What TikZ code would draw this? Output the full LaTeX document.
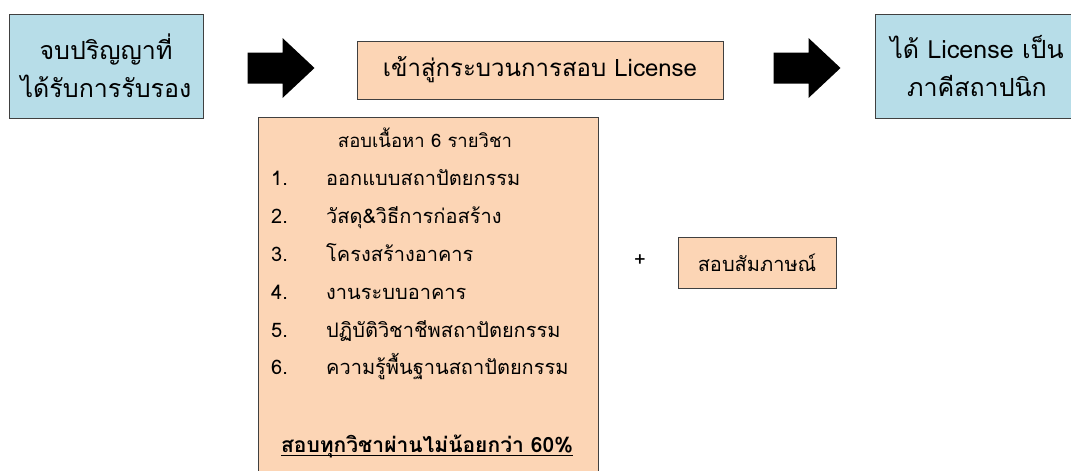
\documentclass[tikz,border=0pt]{standalone}
\usepackage{fontspec}
\usepackage{tikz}
\usetikzlibrary{positioning,calc}
\newfontfamily\thaifont[Script=Thai]{Loma}
\definecolor{bluefill}{HTML}{B7DDE8}
\definecolor{peachfill}{HTML}{FCD5B5}
\definecolor{boxline}{HTML}{404040}
\tikzset{
  box/.style={draw=boxline, line width=0.9pt, align=center, inner sep=0pt},
  bluebox/.style={box, fill=bluefill},
  peachbox/.style={box, fill=peachfill},
  bigtext/.style={font=\thaifont\fontsize{25}{38}\selectfont},
  listtext/.style={font=\thaifont\fontsize{20}{22}\selectfont, inner sep=0pt},
  blockarrow/.pic={\fill[black] (-33.5,-15.5) -- (1.5,-15.5) -- (1.5,-30) -- (33.5,0)
    -- (1.5,30) -- (1.5,15.5) -- (-33.5,15.5) -- cycle;}
}
\begin{document}
\begin{tikzpicture}[x=1pt, y=-1pt]
\useasboundingbox (0,0) rectangle (1071,471);
% top row
\node[bluebox, bigtext, minimum width=194pt, minimum height=104pt] (degree) at (106,66)
  {จบปริญญาที่\\ได้รับการรับรอง};
\node[peachbox, bigtext, font=\thaifont\fontsize{24}{30}\selectfont, minimum width=366pt, minimum height=58pt] (process) at (540,70)
  {เข้าสู่กระบวนการสอบ License};
\node[bluebox, bigtext, minimum width=204pt, minimum height=104pt] (licence) at (977,66)
  {ได้ License เป็น\\ภาคีสถาปนิก};
\pic at (281,68) {blockarrow};
\pic at (807,68) {blockarrow};
% exam subjects
\node[peachbox, minimum width=340pt, minimum height=370pt, anchor=north west] (subjects) at (258,117) {};
\node[listtext, font=\thaifont\fontsize{18.5}{22}\selectfont, anchor=base] (title) at (425,147) {สอบเนื้อหา 6 รายวิชา};
\foreach \txt [count=\i] in {ออกแบบสถาปัตยกรรม, วัสดุ\&วิธีการก่อสร้าง, โครงสร้างอาคาร,
    งานระบบอาคาร, ปฏิบัติวิชาชีพสถาปัตยกรรม, ความรู้พื้นฐานสถาปัตยกรรม} {
  \node[listtext, anchor=base west] (num\i) at (271,{148+37.8*\i}) {\i.};
  \node[listtext, anchor=base west] (item\i) at (326,{148+37.8*\i}) {\txt};
}
\node[listtext, font=\thaifont\bfseries\fontsize{21}{22}\selectfont, anchor=base] (pass) at (427,452)
  {สอบทุกวิชาผ่านไม่น้อยกว่า 60\%};
\draw[line width=0.9pt] ([yshift=-3pt]pass.base west) -- ([yshift=-3pt]pass.base east);
% interview
\node[listtext] (plus) at (640,261) {+};
\node[peachbox, listtext, minimum width=158pt, minimum height=51pt] (interview) at (757,262.5) {สอบสัมภาษณ์};
\end{tikzpicture}
\end{document}
